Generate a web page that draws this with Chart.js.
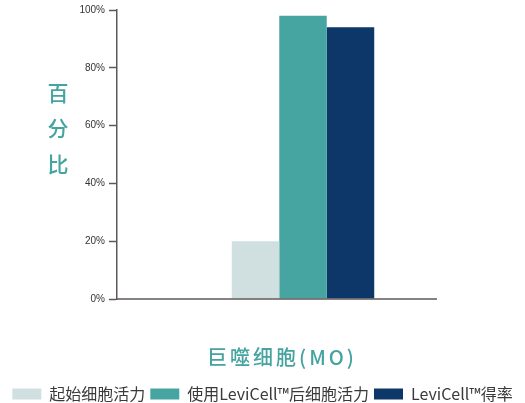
<!DOCTYPE html>
<html lang="zh">
<head>
  <meta charset="UTF-8">
  <title>巨噬细胞活力</title>
  <script src="https://cdn.jsdelivr.net/npm/chart.js@4/dist/chart.umd.min.js"></script>
  <style>
    html, body { margin: 0; padding: 0; background: #fff; }
    #wrap { width: 525px; height: 403px; position: relative; }
  </style>
</head>
<body>
<div id="wrap">
  <canvas id="viability"></canvas>
</div>

<script>
  // values in percent, one group of bars
  const categories = ['巨噬细胞(MO)'];
  const seriesNames = ['起始细胞活力', '使用LeviCell™后细胞活力', 'LeviCell™得率'];
  const startViability = [20];
  const afterViability = [98];
  const cellYield = [94];
  const yTicks = [0, 20, 40, 60, 80, 100];

  const yTitle = ['百', '分', '比'];
  const xTitle = '巨噬细胞(MO)';

  const teal = '#45a3a0';
  const axisGrey = '#5f5858';
  const cjk = '"Noto Sans CJK SC", "Noto Sans", sans-serif';

  // axis line along the bottom and the two titles, drawn on top of the chart
  const decorations = {
    id: 'decorations',
    afterDraw(chart) {
      const ctx = chart.ctx;
      const area = chart.chartArea;
      ctx.save();

      ctx.strokeStyle = axisGrey;
      ctx.lineWidth = 1.5;
      ctx.beginPath();
      ctx.moveTo(area.left, area.bottom);
      ctx.lineTo(area.left + 320, area.bottom);
      ctx.stroke();

      ctx.fillStyle = teal;
      ctx.textAlign = 'center';
      ctx.textBaseline = 'middle';
      ctx.font = '500 21px ' + cjk;
      yTitle.forEach((ch, i) => ctx.fillText(ch, 58, 93 + i * 35.5));

      ctx.font = '500 20px ' + cjk;
      ctx.letterSpacing = '3px';
      ctx.fillText(xTitle, area.left + 165, 357.5);
      ctx.restore();
    }
  };

  new Chart(document.getElementById('viability'), {
    type: 'bar',
    data: {
      labels: categories,
      datasets: [
        { label: seriesNames[0], data: startViability, backgroundColor: '#d0dfe0' },
        { label: seriesNames[1], data: afterViability, backgroundColor: '#46a4a1' },
        { label: seriesNames[2], data: cellYield, backgroundColor: '#0d3768' }
      ]
    },
    options: {
      responsive: true,
      maintainAspectRatio: false,
      animation: false,
      // bottom is negative so the legend row sits low, close to the edge
      layout: { padding: { top: 10, right: 0, left: 0, bottom: -9 } },
      datasets: {
        bar: { categoryPercentage: 0.383, barPercentage: 1.0 }
      },
      scales: {
        x: {
          ticks: { display: false },
          grid: { display: false },
          border: { display: false },
          afterFit(scale) { scale.height = 82; }
        },
        y: {
          min: 0,
          max: 100,
          afterBuildTicks(scale) { scale.ticks = yTicks.map(v => ({ value: v })); },
          afterFit(scale) { scale.width = 117; },
          ticks: {
            padding: 4,
            color: '#333',
            font: { family: '"Liberation Sans", Arial, sans-serif', size: 10 },
            callback: v => v + '%'
          },
          grid: { drawOnChartArea: false, tickLength: 8, tickColor: axisGrey, tickWidth: 1.5 },
          border: { color: axisGrey, width: 1.5 }
        },
        // empty strip on the right keeps the bar group off-centre
        spacer: {
          axis: 'y',
          position: 'right',
          ticks: { display: false },
          grid: { display: false },
          border: { display: false },
          afterFit(scale) { scale.width = 36; }
        }
      },
      plugins: {
        legend: {
          position: 'bottom',
          labels: {
            boxWidth: 29,
            boxHeight: 11,
            padding: 5,
            color: '#3a3a3a',
            font: { family: cjk, size: 16 }
          }
        },
        tooltip: { enabled: false }
      }
    },
    plugins: [decorations]
  });
</script>
</body>
</html>
